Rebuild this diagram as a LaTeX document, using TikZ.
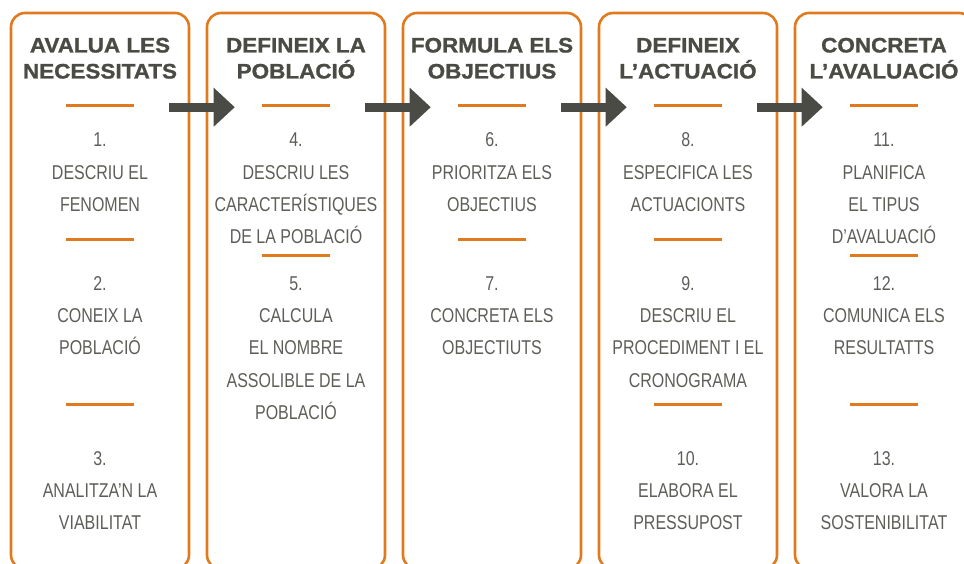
\documentclass[tikz,border=0pt]{standalone}
\usepackage{fontspec}
\setmainfont{Liberation Sans}
\newfontfamily\titlefont{Liberation Sans}[FakeStretch=1.07, BoldFeatures={FakeBold=1.2}]
\newfontfamily\bodyfont{Liberation Sans}[FakeStretch=0.8]
\usetikzlibrary{arrows.meta,calc}
\definecolor{orng}{HTML}{E07A1F}
\definecolor{darkg}{HTML}{4B4B45}
\definecolor{txtg}{HTML}{5E5E59}
\newcommand{\stacklines}[4]{%
  \foreach \t [count=\i] in {#4} \node[txt] (#1-\i) at (#2,{#3+32.2*(\i-1)}) {\t};}
\begin{document}
\begin{tikzpicture}[x=1pt,y=-1pt,
  box/.style={draw=orng, line width=2.6pt, rounded corners=14pt, minimum width=178pt, minimum height=556pt, inner sep=0pt},
  ttl/.style={anchor=base, inner sep=0pt, text=darkg, font=\titlefont\bfseries\fontsize{21}{25}\selectfont},
  txt/.style={anchor=base, inner sep=0pt, text=txtg, font=\bodyfont\fontsize{20}{24}\selectfont},
  sep/.style={draw=orng, line width=3pt},
  flow/.style={draw=darkg, line width=9pt, -{Triangle[width=39pt,length=21pt,line width=0pt]}}
]
\useasboundingbox (0,0) rectangle (964,564);
\clip (0,0) rectangle (964,564);
% boxes
\foreach \n/\x in {1/100,2/296,3/492,4/688,5/884}
  \node[box] (b\n) at (\x,291) {};
% titles
\node[ttl] (t1a) at (100,52.5) {AVALUA LES};
\node[ttl] (t1b) at (100,78.5) {NECESSITATS};
\node[ttl] (t2a) at (296,52.5) {DEFINEIX LA};
\node[ttl] (t2b) at (296,78.5) {POBLACIÓ};
\node[ttl] (t3a) at (492,52.5) {FORMULA ELS};
\node[ttl] (t3b) at (492,78.5) {OBJECTIUS};
\node[ttl] (t4a) at (688,52.5) {DEFINEIX};
\node[ttl] (t4b) at (688,78.5) {L’ACTUACIÓ};
\node[ttl] (t5a) at (884,52.5) {CONCRETA};
\node[ttl] (t5b) at (884,78.5) {L’AVALUACIÓ};
% separators
\foreach \n in {1,...,5} \draw[sep] ($(b\n.north)+(-34,94)$) -- ++(68,0);
\foreach \n in {1,3,4} \draw[sep] ($(b\n.north)+(-34,228)$) -- ++(68,0);
\foreach \n in {2,5} \draw[sep] ($(b\n.north)+(-34,244)$) -- ++(68,0);
\foreach \n in {1,4,5} \draw[sep] ($(b\n.north)+(-34,393)$) -- ++(68,0);
% column 1
\stacklines{c1a}{100}{147}{1.,DESCRIU EL,FENOMEN}
\stacklines{c1b}{100}{290.5}{2.,CONEIX LA,POBLACIÓ}
\stacklines{c1c}{100}{465}{3.,ANALITZA’N LA,VIABILITAT}
% column 2
\stacklines{c2a}{296}{147}{4.,DESCRIU LES,CARACTERÍSTIQUES,DE LA POBLACIÓ}
\stacklines{c2b}{296}{290.5}{5.,CALCULA,EL NOMBRE,ASSOLIBLE DE LA,POBLACIÓ}
% column 3
\stacklines{c3a}{492}{147}{6.,PRIORITZA ELS,OBJECTIUS}
\stacklines{c3b}{492}{290.5}{7.,CONCRETA ELS,OBJECTIUTS}
% column 4
\stacklines{c4a}{688}{147}{8.,ESPECIFICA LES,ACTUACIONTS}
\stacklines{c4b}{688}{290.5}{9.,DESCRIU EL,PROCEDIMENT I EL,CRONOGRAMA}
\stacklines{c4c}{688}{465}{10.,ELABORA EL,PRESSUPOST}
% column 5
\stacklines{c5a}{884}{147}{11.,PLANIFICA,EL TIPUS,D’AVALUACIÓ}
\stacklines{c5b}{884}{290.5}{12.,COMUNICA ELS,RESULTATTS}
\stacklines{c5c}{884}{465}{13.,VALORA LA,SOSTENIBILITAT}
% arrows
\foreach \a/\b in {1/2,2/3,3/4,4/5}
  \draw[flow] ($(b\a.north east)+(-21,95.5)$) -- ($(b\b.north west)+(29,95.5)$);
\end{tikzpicture}
\end{document}
